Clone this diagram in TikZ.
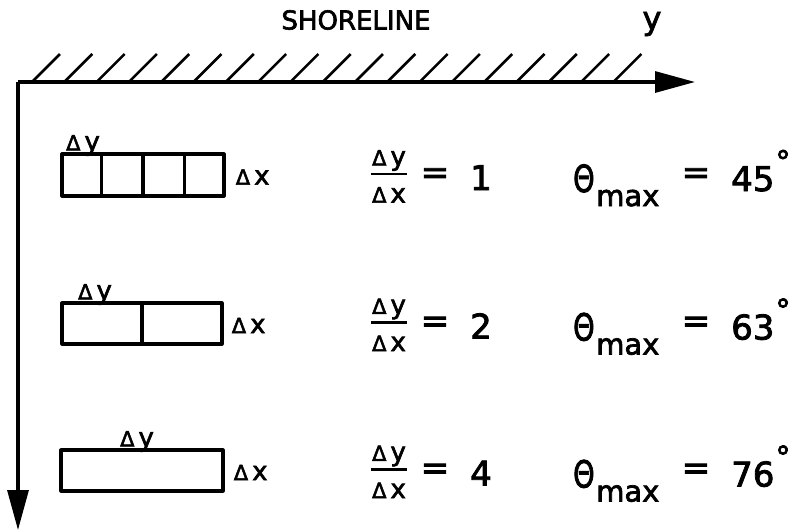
\documentclass[tikz,border=0pt]{standalone}
\usepackage{fontspec}
\usepackage{graphicx}
\setmainfont{DejaVu Sans}[FakeBold=2.4]
\usetikzlibrary{arrows.meta,calc}
\newcommand{\fsz}[1]{\fontsize{#1pt}{#1pt}\selectfont}
\newcommand{\dl}{{\fsz{21}Δ}\hspace{4pt}}
\begin{document}
\begin{tikzpicture}[x=1pt,y=-1pt,
  axis/.style={line width=3.2pt,-{Triangle[length=40pt,width=21pt]}},
  hatch/.style={line width=2.6pt},
  cellbox/.style={draw,line width=3.2pt,inner sep=0pt,line join=round},
  divider/.style={line width=3.2pt},
  lbl/.style={inner sep=0pt,font=\fsz{26}},
  big/.style={inner sep=0pt,font=\fsz{34}},
  sub/.style={inner sep=0pt,font=\fsz{29}},
  deg/.style={inner sep=0pt,font=\fsz{30}}]
\useasboundingbox (0,0) rectangle (793,531);
% axes
\coordinate (O) at (18,82);
\coordinate (hend) at (695,82);
\coordinate (vend) at (18,530);
\node[inner sep=0pt,font=\fsz{26}] (shore) at (356,20) {SHORELINE};
\node[inner sep=0pt,font=\fsz{32}] (ylab) at (652,24) {y};
\foreach \i in {0,...,18}
  \draw[hatch] ($(O)+(14+32.3*\i,0)$) -- ++(28,-28);
\draw[axis] (O) -- (hend);
\draw[axis] (O) -- (vend);
% boxes
\node[cellbox,minimum width=162pt,minimum height=42pt] (b1) at (143,175) {};
\node[cellbox,minimum width=160pt,minimum height=41pt] (b2) at (142,323.5) {};
\node[cellbox,minimum width=162pt,minimum height=41pt] (b3) at (142,470.5) {};
\foreach \f in {0.25,0.5,0.75}
  \draw[divider] ($(b1.north west)!\f!(b1.north east)$) -- ($(b1.south west)!\f!(b1.south east)$);
\draw[divider] ($(b2.north west)!0.5!(b2.north east)$) -- ($(b2.south west)!0.5!(b2.south east)$);
% delta labels
\node[lbl,anchor=south] (dy1) at (83,156) {\dl y};
\node[lbl,anchor=south] (dy2) at (95,305) {\dl y};
\node[lbl,anchor=south] (dy3) at (137,452) {\dl y};
\node[lbl,anchor=west] (dx1) at ($(b1.east)+(10,2)$) {\dl x};
\node[lbl,anchor=west] (dx2) at ($(b2.east)+(8,2)$) {\dl x};
\node[lbl,anchor=west] (dx3) at ($(b3.east)+(9,2)$) {\dl x};
% equations
\foreach \r/\yc/\n/\ang in {1/175/1/45,2/323.5/2/63,3/470.5/4/76}{
  \node[lbl,anchor=south] (num\r) at (389,\yc-4) {\dl y};
  \node[lbl,anchor=north] (den\r) at (389,\yc+12) {\dl x};
  \draw[line width=2.6pt] ($(num\r.south west)+(-1,3)$) -- ($(num\r.south east)+(1,3)$);
  \node[big] (eqa\r) at (435,\yc+1) {=};
  \node[big,anchor=base] (val\r) at (481,\yc+15) {\n};
  \node[big,anchor=base west] (th\r) at (573,\yc+17) {\scalebox{0.8}[1.1]{Θ}};
  \node[sub,anchor=base west] (mx\r) at (596,\yc+31) {max};
  \node[big] (eqb\r) at (696,\yc+1) {=};
  \node[big,anchor=base west] (ang\r) at (731,\yc+16) {\ang};
  \node[deg] (dg\r) at (783,\yc-14) {°};
}
\end{tikzpicture}
\end{document}
